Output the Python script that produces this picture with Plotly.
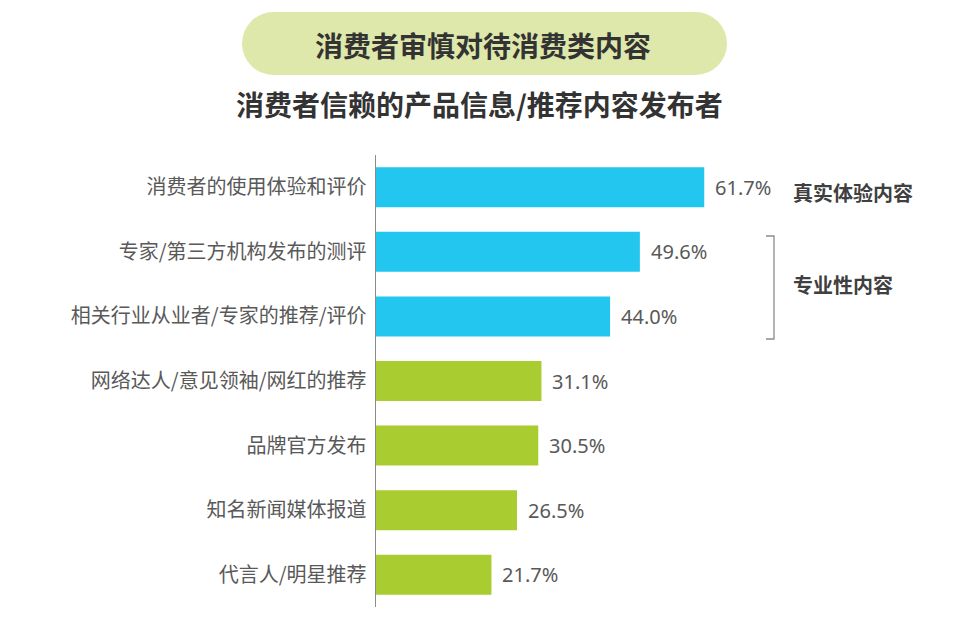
import plotly.graph_objects as go

categories = ["消费者的使用体验和评价", "专家/第三方机构发布的测评", "相关行业从业者/专家的推荐/评价",
              "网络达人/意见领袖/网红的推荐", "品牌官方发布", "知名新闻媒体报道", "代言人/明星推荐"]
values = [61.7, 49.6, 44.0, 31.1, 30.5, 26.5, 21.7]
groups = ["real", "pro", "pro", "other", "other", "other", "other"]
group_colors = {"real": "#22C6EF", "pro": "#22C6EF", "other": "#A9CC30"}

OFF = 8  # page body margin
W, H = 971 - OFF, 617 - OFF
# plot area in page pixels
L, R, T, B = 376, 908, 155, 607

def px(X):
    return (X - L) / (R - L)

def py(Y):
    return (B - Y) / (B - T)

fig = go.Figure()
fig.add_trace(go.Bar(
    x=values, y=categories, orientation="h",
    marker=dict(color=[group_colors[g] for g in groups], line=dict(width=0)),
    hoverinfo="skip",
))

annotations = []
for c, v in zip(categories, values):
    annotations.append(dict(x=v, y=c, xref="x", yref="y", text=f"{v:.1f}%", showarrow=False,
                            xanchor="left", xshift=9,
                            font=dict(family="Noto Sans, Open Sans, sans-serif", size=20, color="#595959")))

# titles
annotations.append(dict(x=px(483), y=py(45), xref="paper", yref="paper", text="<b>消费者审慎对待消费类内容</b>",
                        showarrow=False, xanchor="center", yanchor="middle",
                        font=dict(family="Noto Sans CJK SC", size=28, color="#333333")))
annotations.append(dict(x=px(479), y=py(104), xref="paper", yref="paper",
                        text="<b>消费者信赖的产品信息/推荐内容发布者</b>",
                        showarrow=False, xanchor="center", yanchor="middle",
                        font=dict(family="Noto Sans CJK SC", size=28, color="#333333")))
# group labels
annotations.append(dict(x=px(791), y=py(192), xref="paper", yref="paper", text="<b>真实体验内容</b>",
                        showarrow=False, xanchor="left", yanchor="middle",
                        font=dict(family="Noto Sans CJK SC", size=20, color="#404040")))
annotations.append(dict(x=px(791), y=py(284), xref="paper", yref="paper", text="<b>专业性内容</b>",
                        showarrow=False, xanchor="left", yanchor="middle",
                        font=dict(family="Noto Sans CJK SC", size=20, color="#404040")))

pill = "#DDE8AA"
shapes = [
    dict(type="rect", xref="paper", yref="paper", x0=px(273.5), x1=px(695.5), y0=py(75), y1=py(12),
         fillcolor=pill, line=dict(width=0), layer="below"),
    dict(type="circle", xref="paper", yref="paper", x0=px(242), x1=px(305), y0=py(75), y1=py(12),
         fillcolor=pill, line=dict(width=0), layer="below"),
    dict(type="circle", xref="paper", yref="paper", x0=px(664), x1=px(727), y0=py(75), y1=py(12),
         fillcolor=pill, line=dict(width=0), layer="below"),
    # bracket
    dict(type="path", xref="paper", yref="paper",
         path=f"M {px(766)} {py(236)} L {px(774)} {py(236)} L {px(774)} {py(339)} L {px(766)} {py(339)}",
         line=dict(color="#8C8C8C", width=1.3)),
]

fig.update_layout(
    width=W, height=H,
    margin=dict(l=L - OFF, r=971 - R, t=T - OFF, b=617 - B, pad=0),
    paper_bgcolor="white", plot_bgcolor="white",
    bargap=0.38,
    showlegend=False,
    annotations=annotations,
    shapes=shapes,
    xaxis=dict(range=[0, 100], visible=False, fixedrange=True),
    yaxis=dict(categoryorder="array", categoryarray=categories[::-1], range=[-0.5, 6.5],
               showline=True, linecolor="#8C8C8C", linewidth=1, ticks="", showgrid=False,
               ticksuffix=" ", fixedrange=True,
               tickfont=dict(family="Noto Sans CJK SC", size=20, color="#595959")),
)

fig.write_html("out.html")
